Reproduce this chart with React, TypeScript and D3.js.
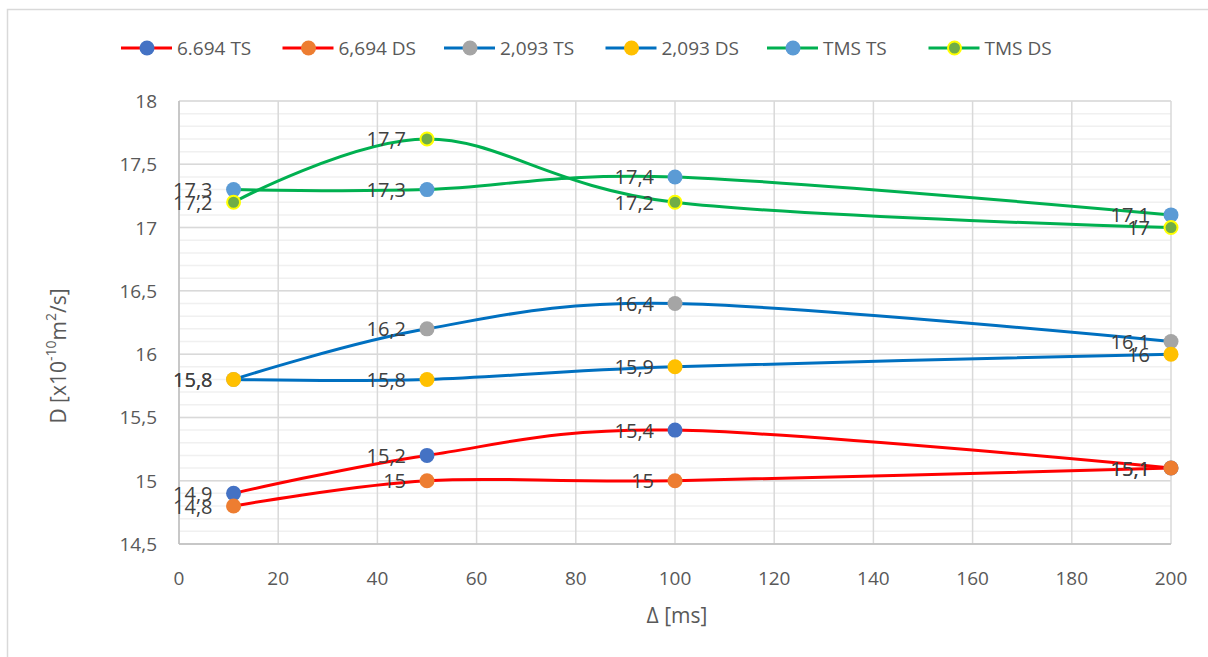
import React from "react";
import * as d3 from "d3";

const xValues = [11, 50, 100, 200];
const seriesNames = ["6.694 TS", "6,694 DS", "2,093 TS", "2,093 DS", "TMS TS", "TMS DS"];
const s6694TS = [14.9, 15.2, 15.4, 15.1];
const s6694DS = [14.8, 15, 15, 15.1];
const s2093TS = [15.8, 16.2, 16.4, 16.1];
const s2093DS = [15.8, 15.8, 15.9, 16];
const sTMSTS = [17.3, 17.3, 17.4, 17.1];
const sTMSDS = [17.2, 17.7, 17.2, 17];
const xTicks = [0, 20, 40, 60, 80, 100, 120, 140, 160, 180, 200];
const yTicks = [14.5, 15, 15.5, 16, 16.5, 17, 17.5, 18];

const lineColors = ["#FF0000", "#FF0000", "#0070C0", "#0070C0", "#00B050", "#00B050"];
const markerFill = ["#4472C4", "#ED7D31", "#A5A5A5", "#FFC000", "#5B9BD5", "#70AD47"];
const markerStroke = ["none", "none", "none", "none", "none", "#FFFF00"];

const FONT = "'Open Sans', 'Segoe UI', sans-serif";
const TXT = "#595959";

export default function App() {
  const allSeries = [s6694TS, s6694DS, s2093TS, s2093DS, sTMSTS, sTMSDS];
  const x = d3.scaleLinear().domain([0, 200]).range([179, 1171]);
  const y = d3.scaleLinear().domain([14.5, 18]).range([544, 101]);
  const line = d3
    .line<[number, number]>()
    .x((d) => x(d[0]))
    .y((d) => y(d[1]))
    .curve(d3.curveCardinal.tension(0));
  const minor = d3.range(145, 181).map((v) => v / 10);
  const fmt = (v: number) => String(v).replace(".", ",");

  return (
    <svg
      width={1208}
      height={657}
      style={{ position: "absolute", left: 0, top: 0, background: "#fff" }}
      fontFamily={FONT}
    >
      <rect x={7.5} y={9.5} width={1300} height={700} fill="#fff" stroke="#D9D9D9" strokeWidth={1.5} />
      {minor.map((v, i) => (
        <line key={"mn" + i} x1={x(0)} x2={x(200)} y1={y(v)} y2={y(v)} stroke="#F0F0F0" strokeWidth={1.5} />
      ))}
      {xTicks.map((t) => (
        <line key={"vx" + t} x1={x(t)} x2={x(t)} y1={y(18)} y2={y(14.5)} stroke="#D9D9D9" strokeWidth={1.5} />
      ))}
      {yTicks.map((t) => (
        <line key={"hy" + t} x1={x(0)} x2={x(200)} y1={y(t)} y2={y(t)} stroke="#D9D9D9" strokeWidth={1.5} />
      ))}
      <line x1={x(0)} x2={x(0)} y1={y(18)} y2={y(14.5)} stroke="#BFBFBF" strokeWidth={1.5} />
      <line x1={x(0)} x2={x(200)} y1={y(14.5)} y2={y(14.5)} stroke="#BFBFBF" strokeWidth={1.5} />
      {yTicks.map((t) => (
        <text key={"yl" + t} x={157} y={y(t)} textAnchor="end" dominantBaseline="central" fontSize={19} fill={TXT}>
          {fmt(t)}
        </text>
      ))}
      {xTicks.map((t) => (
        <text key={"xl" + t} x={x(t)} y={578} textAnchor="middle" dominantBaseline="central" fontSize={19} fill={TXT}>
          {t}
        </text>
      ))}
      <text x={677} y={615} textAnchor="middle" dominantBaseline="central" fontSize={21} fill={TXT}>
        Δ [ms]
      </text>
      <text
        transform={`translate(58,356) rotate(-90)`}
        textAnchor="middle"
        dominantBaseline="central"
        fontSize={21}
        fill={TXT}
      >
        D [x10
        <tspan dy={-8} fontSize={14}>-10</tspan>
        <tspan dy={8}>m</tspan>
        <tspan dy={-8} fontSize={14}>2</tspan>
        <tspan dy={8}>/s]</tspan>
      </text>
      {allSeries.map((s, i) => (
        <path
          key={"ln" + i}
          d={line(xValues.map((xv, j) => [xv, s[j]] as [number, number])) || ""}
          fill="none"
          stroke={lineColors[i]}
          strokeWidth={3}
        />
      ))}
      {allSeries.map((s, i) =>
        s.map((v, j) => (
          <circle
            key={"mk" + i + "-" + j}
            cx={x(xValues[j])}
            cy={y(v)}
            r={markerStroke[i] === "none" ? 7.5 : 6.5}
            fill={markerFill[i]}
            stroke={markerStroke[i]}
            strokeWidth={2}
          />
        ))
      )}
      {allSeries.map((s, i) =>
        s.map((v, j) => (
          <text
            key={"dl" + i + "-" + j}
            x={x(xValues[j]) - 21}
            y={y(v)}
            textAnchor="end"
            dominantBaseline="central"
            fontSize={20}
            fill="#404040"
          >
            {fmt(v)}
          </text>
        ))
      )}
      {seriesNames.map((n, i) => {
        const lx = 121 + i * 161.5;
        return (
          <g key={"lg" + i}>
            <line x1={lx} x2={lx + 51} y1={48} y2={48} stroke={lineColors[i]} strokeWidth={3} />
            <circle
              cx={lx + 26}
              cy={48}
              r={markerStroke[i] === "none" ? 7.5 : 6.5}
              fill={markerFill[i]}
              stroke={markerStroke[i]}
              strokeWidth={2}
            />
            <text x={lx + 56} y={48} dominantBaseline="central" fontSize={19} fill={TXT}>
              {n}
            </text>
          </g>
        );
      })}
    </svg>
  );
}
